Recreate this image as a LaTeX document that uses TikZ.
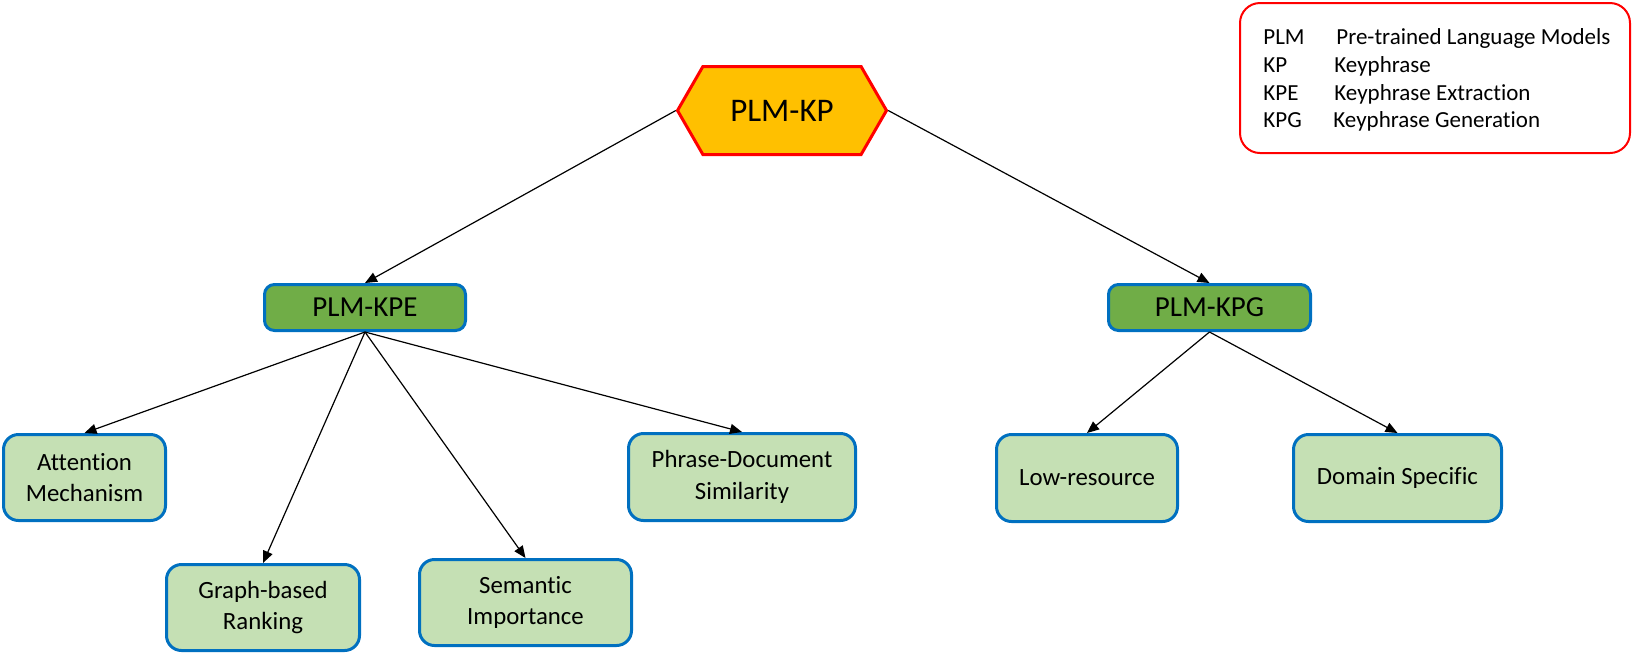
\documentclass[tikz,border=0pt]{standalone}
\usepackage{fontspec}
\setmainfont{Carlito}[Ligatures=NoCommon]
\usetikzlibrary{arrows.meta,shapes.symbols}

\definecolor{boxblue}{HTML}{0070C0}
\definecolor{midgreen}{HTML}{70AD47}
\definecolor{leafgreen}{HTML}{C5E0B4}
\definecolor{hexfill}{HTML}{FFC000}

\tikzset{
	root/.style={shape=signal, signal to=west and east, signal pointer angle=120, draw=red, line width=1.5pt, fill=hexfill, inner sep=0pt, minimum width=104.5pt, minimum height=44pt, font=\fontsize{16.5}{19}\selectfont},
	branch/.style={shape=rectangle, rounded corners=5pt, draw=boxblue, line width=1.5pt, fill=midgreen, inner sep=0pt, minimum height=23pt, font=\fontsize{14.5}{17}\selectfont},
	leaf/.style={shape=rectangle, rounded corners=7.5pt, draw=boxblue, line width=1.5pt, fill=leafgreen, inner sep=0pt, minimum height=43pt, align=center, font=\fontsize{12.4}{15.8}\selectfont},
	link/.style={draw=black, line width=0.6pt, -{Triangle[length=6pt,width=5pt]}},
	legend/.style={inner sep=0pt, anchor=base west, font=\fontsize{11.5}{13.7}\selectfont}
}

\begin{document}
\begin{tikzpicture}[x=0.5pt, y=-0.5pt]
\useasboundingbox (0,0) rectangle (1634,655);

% legend
\draw[red, line width=1pt, rounded corners=10pt] (1240,3) rectangle (1630,153);
\foreach \y/\ab/\dx/\de [count=\i] in {44/PLM/1336/Pre-trained Language Models, 72.5/KP/1334/Keyphrase, 100/KPE/1334/Keyphrase Extraction, 127.5/KPG/1333/Keyphrase Generation}
{
	\node [legend] (abbr-\i) at (1263,\y) {\ab};
	\node [legend] (desc-\i) at (\dx,\y) {\de};
}

% tree
\node [root] (kp) at (782,110.5) {PLM-KP};

\node [branch, minimum width=100.5pt] (kpe) at (365,307.5) {PLM-KPE};
\node [branch, minimum width=101pt] (kpg) at (1209.5,307.5) {PLM-KPG};

\node [leaf, minimum width=81pt] (attn) at (84.5,477.5) {Attention\\Mechanism};
\node [leaf, minimum width=96.5pt] (graph) at (263,607.5) {Graph-based\\Ranking};
\node [leaf, minimum width=106pt] (sem) at (525.5,602.5) {Semantic\\Importance};
\node [leaf, minimum width=113.5pt, minimum height=43.5pt] (phrase) at (742,477) {Phrase-Document\\Similarity};
\node [leaf, minimum width=90.5pt, minimum height=43.5pt] (low) at (1087,478) {Low-resource};
\node [leaf, minimum width=104pt, minimum height=43.5pt] (dom) at (1397.5,478) {Domain Specific};

\draw[link] (kp.west) -- (kpe.north);
\draw[link] (kp.east) -- (kpg.north);

\foreach \leafname in {attn,graph,sem,phrase}
	\draw[link] (kpe.south) -- (\leafname.north);
\foreach \leafname in {low,dom}
	\draw[link] (kpg.south) -- (\leafname.north);
\end{tikzpicture}
\end{document}
